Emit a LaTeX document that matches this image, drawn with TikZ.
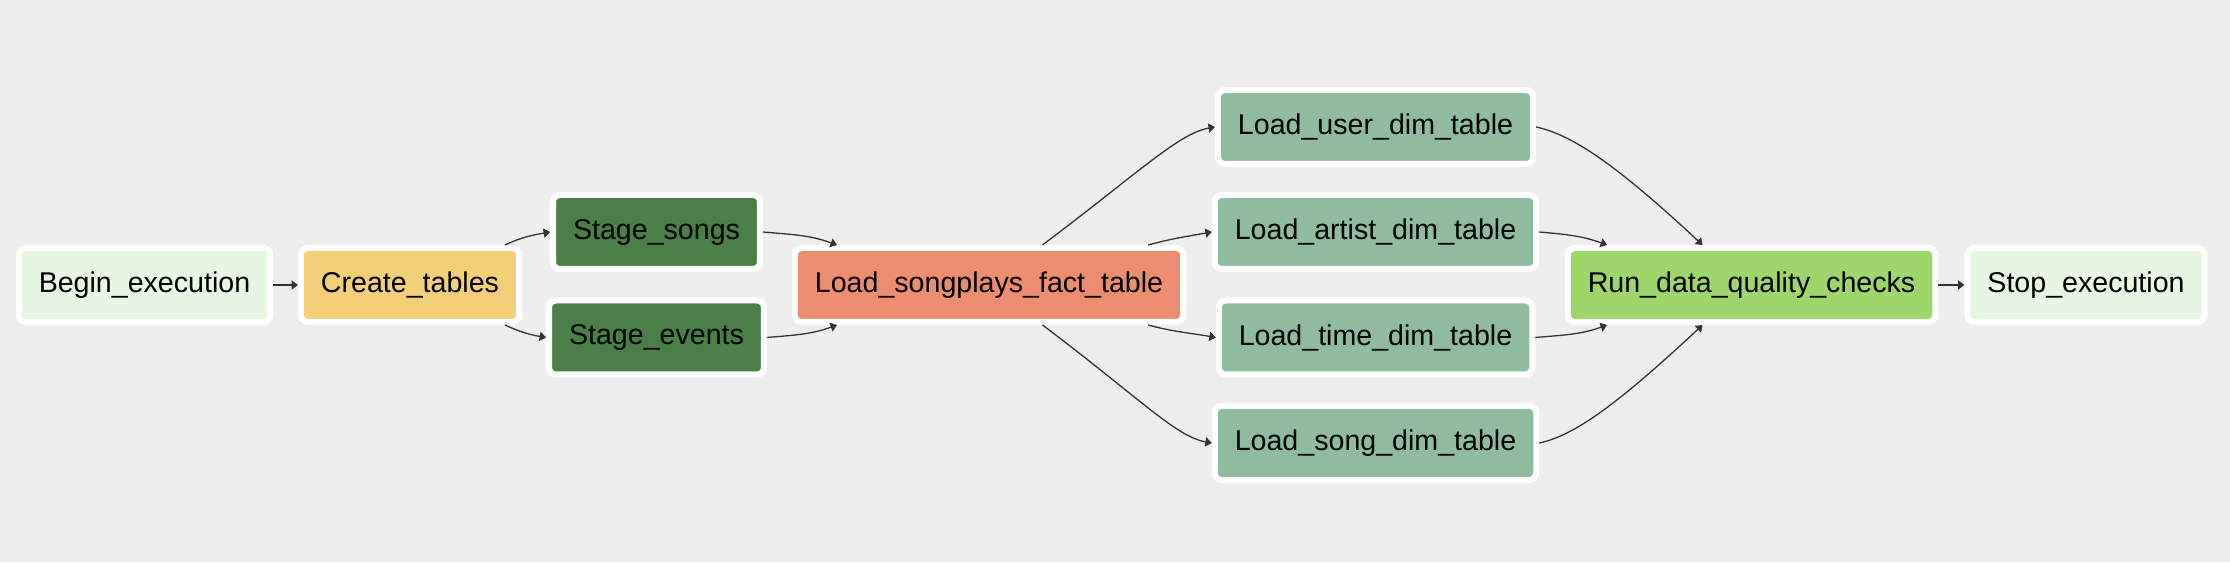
\documentclass[tikz,border=0pt]{standalone}
\usepackage{fontspec}
\setmainfont{Liberation Sans}
\usepackage{tikz}
\usetikzlibrary{arrows.meta}
\definecolor{bggray}{RGB}{238, 238, 238}
\definecolor{dummy}{RGB}{232, 246, 228}
\definecolor{create}{RGB}{243, 208, 120}
\definecolor{stage}{RGB}{74, 127, 71}
\definecolor{fact}{RGB}{236, 141, 111}
\definecolor{dim}{RGB}{143, 188, 159}
\definecolor{check}{RGB}{157, 214, 107}
\definecolor{edge}{RGB}{51, 51, 51}

\begin{document}
\begin{tikzpicture}[x=0.5pt, y=0.5pt,
    task/.style={draw=white, line width=3pt, rounded corners=3.5pt,
      minimum height=37pt, inner xsep=10pt, inner ysep=0pt,
      font=\fontsize{14.3}{17}\selectfont},
    flow/.style={draw=edge, line width=0.65pt,
      -{Triangle[length=3.2pt, width=4.6pt]}}]

  \fill[color=bggray] (0, 0) rectangle (2230, 562);

  % tasks
  \node[task, fill=dummy]  (begin)   at (144.5, 277)  {Begin\_execution};
  \node[task, fill=create] (tables)  at (410, 277)    {Create\_tables};
  \node[task, fill=stage]  (songs)   at (656.5, 330)  {Stage\_songs};
  \node[task, fill=stage]  (events)  at (656.5, 224.5) {Stage\_events};
  \node[task, fill=fact]   (plays)   at (989, 277)    {Load\_songplays\_fact\_table};
  \node[task, fill=dim]    (user)    at (1375.5, 435) {Load\_user\_dim\_table};
  \node[task, fill=dim]    (artist)  at (1375.5, 330) {Load\_artist\_dim\_table};
  \node[task, fill=dim]    (time)    at (1375.5, 224.5) {Load\_time\_dim\_table};
  \node[task, fill=dim]    (song)    at (1375.5, 119) {Load\_song\_dim\_table};
  \node[task, fill=check]  (checks)  at (1751.5, 277) {Run\_data\_quality\_checks};
  \node[task, fill=dummy]  (stop)    at (2086, 277)   {Stop\_execution};

  % dependencies
  \draw[flow] (begin) -- (tables);
  \draw[flow] ([xshift=47.5pt]tables.north) to[out=25, in=190] (songs.west);
  \draw[flow] ([xshift=47.5pt]tables.south) to[out=-25, in=170] (events.west);
  \draw[flow] (songs.east) to[out=-5, in=160] ([xshift=-76pt]plays.north);
  \draw[flow] (events.east) to[out=5, in=200] ([xshift=-76pt]plays.south);

  \draw[flow] ([xshift=26.75pt]plays.north) to[out=37, in=190, out looseness=1.5, in looseness=0.45] (user.west);
  \draw[flow] ([xshift=79.5pt]plays.north) to[out=15, in=190] (artist.west);
  \draw[flow] ([xshift=79.5pt]plays.south) to[out=-15, in=170] (time.west);
  \draw[flow] ([xshift=26.75pt]plays.south) to[out=-37, in=170, out looseness=1.5, in looseness=0.45] (song.west);

  \draw[flow] (user.east) to[out=-12, in=137, out looseness=0.45, in looseness=1.5] ([xshift=-24.5pt]checks.north);
  \draw[flow] (artist.east) to[out=-5, in=160] ([xshift=-72.25pt]checks.north);
  \draw[flow] (time.east) to[out=5, in=200] ([xshift=-72.25pt]checks.south);
  \draw[flow] (song.east) to[out=12, in=223, out looseness=0.45, in looseness=1.5] ([xshift=-24.5pt]checks.south);
  \draw[flow] (checks) -- (stop);

\end{tikzpicture}
\end{document}
